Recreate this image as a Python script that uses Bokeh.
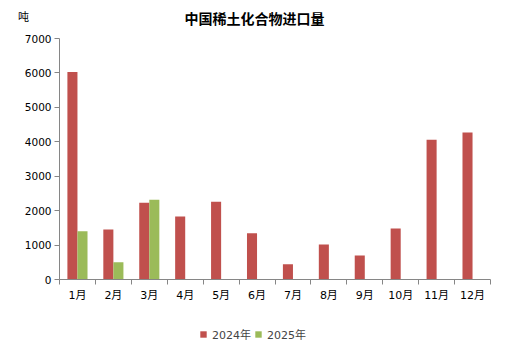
from bokeh.plotting import figure
from bokeh.models import (ColumnDataSource, FixedTicker, Legend, LegendItem,
                          Label, Range1d)
from bokeh.transform import dodge
from bokeh.embed import file_html
from bokeh.resources import INLINE

months = ["1月", "2月", "3月", "4月", "5月", "6月", "7月", "8月", "9月", "10月", "11月", "12月"]
imports_2024 = [6030, 1450, 2230, 1830, 2260, 1340, 440, 1020, 700, 1480, 4060, 4270]
imports_2025 = [1400, 500, 2320]
y_ticks = [0, 1000, 2000, 3000, 4000, 5000, 6000, 7000]
title_text = "中国稀土化合物进口量"
unit_text = "吨"

RED = "#C0504D"
GREEN = "#9BBB59"
AXIS = "#868686"
FONT = "DejaVu Sans, Noto Sans CJK SC"

W, H = 508, 356
# plot area in canvas pixels (left, right, top, bottom)
PL, PR, PT, PB = 59, 490, 38, 279
n = len(months)
YMAX = y_ticks[-1]
xs = (PR - PL) / n            # px per category
ys = (PB - PT) / YMAX         # px per ton

pos24 = [i + 0.5 for i in range(n)]
pos25 = [i + 0.5 for i in range(len(imports_2025))]
src24 = ColumnDataSource(dict(x=pos24, y=imports_2024))
src25 = ColumnDataSource(dict(x=pos25, y=imports_2025))

p = figure(width=W, height=H, output_backend="svg", toolbar_location=None,
           x_range=Range1d(-PL / xs, n + (W - PR) / xs),
           y_range=Range1d(-(H - PB) / ys, YMAX + PT / ys),
           min_border=0, x_axis_location="below", y_axis_location="left")
p.outline_line_color = None
p.xgrid.visible = False
p.ygrid.visible = False

r24 = p.vbar(x=dodge("x", -0.14), top="y", width=0.28, source=src24,
             fill_color=RED, line_color=None)
r25 = p.vbar(x=dodge("x", 0.14), top="y", width=0.28, source=src25,
             fill_color=GREEN, line_color=None)

# x axis: labels at centers, boundary tick marks as minor ticks
xa = p.xaxis[0]
xa.fixed_location = 0
xa.bounds = (0, n)
xa.ticker = FixedTicker(ticks=pos24, minor_ticks=list(range(n + 1)))
xa.major_label_overrides = {pos24[i]: months[i] for i in range(n)}
xa.major_tick_out = 0
xa.major_tick_in = 0
xa.minor_tick_out = 5
xa.minor_tick_in = 0
xa.minor_tick_line_color = AXIS
xa.axis_line_color = AXIS
xa.major_label_standoff = 4
xa.major_label_text_font = FONT
xa.major_label_text_font_size = "11px"
xa.major_label_text_color = "black"

ya = p.yaxis[0]
ya.fixed_location = 0
ya.bounds = (0, YMAX)
ya.ticker = FixedTicker(ticks=y_ticks)
ya.minor_tick_line_color = None
ya.major_tick_out = 5
ya.major_tick_in = 0
ya.major_tick_line_color = AXIS
ya.axis_line_color = AXIS
ya.major_label_standoff = 3
ya.major_label_text_font = FONT
ya.major_label_text_font_size = "10.5px"
ya.major_label_text_color = "black"

title = Label(x=254, y=H - 18, x_units="screen", y_units="screen", text=title_text,
              text_font=FONT, text_font_size="14px", text_font_style="bold",
              text_align="center", text_baseline="middle", text_color="black")
p.add_layout(title)
unit = Label(x=23, y=H - 17, x_units="screen", y_units="screen", text=unit_text,
             text_font=FONT, text_font_size="11px", text_align="center",
             text_baseline="middle", text_color="black")
p.add_layout(unit)

legend = Legend(items=[LegendItem(label="2024年", renderers=[r24]),
                       LegendItem(label="2025年", renderers=[r25])],
                orientation="horizontal", location=(199, 14),
                border_line_color=None, background_fill_alpha=0,
                glyph_width=8, glyph_height=8, label_standoff=5, spacing=3,
                padding=0, margin=0, label_text_font=FONT,
                label_text_font_size="11px")
p.add_layout(legend, "center")

open("out.html", "w").write(file_html(p, INLINE))
